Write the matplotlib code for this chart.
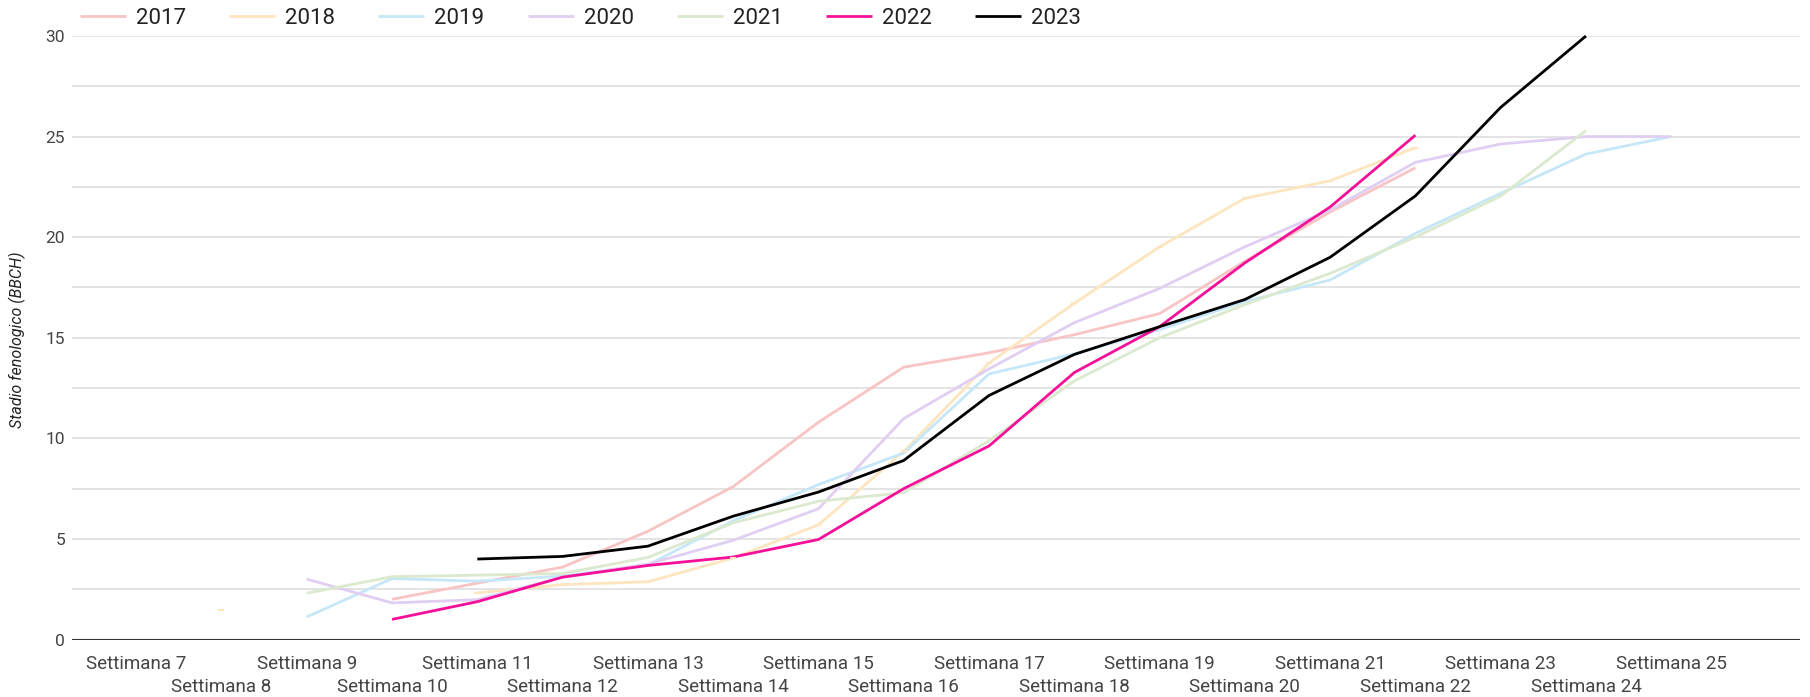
import numpy as np
import matplotlib
matplotlib.use("Agg")
import matplotlib.pyplot as plt

nan = np.nan

# weeks 7..25
weeks = list(range(7, 26))
years = ["2017", "2018", "2019", "2020", "2021", "2022", "2023"]

s2017 = [nan, nan, nan, 2.0, 2.8, 3.6, 5.38, 7.6, 10.8, 13.54, 14.25, 15.15, 16.2, 18.8, 21.25, 23.45, nan, nan, nan]
s2018 = [nan, 1.45, nan, nan, 2.32, 2.73, 2.87, 4.05, 5.7, 9.35, 13.74, 16.71, 19.52, 21.93, 22.8, 24.45, nan, nan, nan]
s2019 = [nan, nan, 1.12, 3.03, 2.9, 3.15, 3.7, 5.9, 7.7, 9.27, 13.2, 14.2, 15.4, 16.8, 17.87, 20.19, 22.18, 24.13, 25.0]
s2020 = [nan, nan, 3.0, 1.82, 1.98, 3.1, 3.75, 4.93, 6.5, 10.98, 13.45, 15.75, 17.45, 19.52, 21.35, 23.72, 24.63, 25.0, 25.0]
s2021 = [nan, nan, 2.3, 3.12, 3.2, 3.28, 4.08, 5.8, 6.87, 7.3, 9.88, 12.85, 15.0, 16.65, 18.2, 20.0, 22.04, 25.3, nan]
s2022 = [nan, nan, nan, 1.0, 1.88, 3.1, 3.68, 4.1, 4.97, 7.5, 9.62, 13.27, 15.55, 18.72, 21.5, 25.07, nan, nan, nan]
s2023 = [nan, nan, nan, nan, 4.0, 4.13, 4.64, 6.13, 7.33, 8.9, 12.13, 14.17, 15.55, 16.9, 19.0, 22.05, 26.45, 30.0, nan]

series = [s2017, s2018, s2019, s2020, s2021, s2022, s2023]
colors = ["#f8c4c4", "#fde5c0", "#c6e7f8", "#e0cff3", "#dbe9cf", "#f5109a", "#000000"]

plt.rcParams["font.family"] = ["Roboto", "DejaVu Sans"]

fig = plt.figure(figsize=(18.10, 6.97), dpi=100)
ax = fig.add_axes([72 / 1810, 1 - 639.5 / 697, (1800 - 72) / 1810, (639.5 - 36) / 697])

for v in np.arange(2.5, 30.1, 2.5):
    ax.axhline(v, color="#dcdcdc", lw=1.1, zorder=0)
ax.axhline(0, color="#333333", lw=1.5, zorder=1)

for name, vals, c in zip(years, series, colors):
    ax.plot(weeks, vals, color=c, lw=2.0, label=name, solid_joinstyle="round",
            solid_capstyle="butt", clip_on=False, zorder=2)

# isolated point of 2018
ax.plot(weeks, s2018, color=colors[1], lw=0, marker="_", ms=4, mew=1.5, zorder=2)

ax.set_xlim(6.247, 26.51)
ax.set_ylim(0, 30)
for sp in ax.spines.values():
    sp.set_visible(False)

odd = [w for w in weeks if w % 2 == 1]
even = [w for w in weeks if w % 2 == 0]
ax.set_xticks(odd, [f"Settimana {w}" for w in odd])
ax.set_xticks(even, [f"Settimana {w}" for w in even], minor=True)
ax.tick_params(axis="x", which="major", length=0, pad=11.5, labelsize=13.5, labelcolor="#444444")
ax.tick_params(axis="x", which="minor", length=0, pad=28, labelsize=13.5, labelcolor="#444444")

ax.set_yticks([0, 5, 10, 15, 20, 25, 30])
ax.tick_params(axis="y", length=0, pad=5, labelsize=12.5, labelcolor="#444444")

fig.text(17 / 1810, 1 - 340 / 697, "Stadio fenologico (BBCH)", rotation=90, style="italic",
         fontsize=11.5, color="#222222", ha="center", va="center")

ax.legend(loc="center left", bbox_to_anchor=(80 / 1810, 1 - 18 / 697), bbox_transform=fig.transFigure,
          ncol=7, frameon=False, fontsize=16, handlelength=2.07, handletextpad=0.45,
          columnspacing=1.94, borderaxespad=0, borderpad=0, labelcolor="#222222")

fig.savefig("out.png", dpi=100)
